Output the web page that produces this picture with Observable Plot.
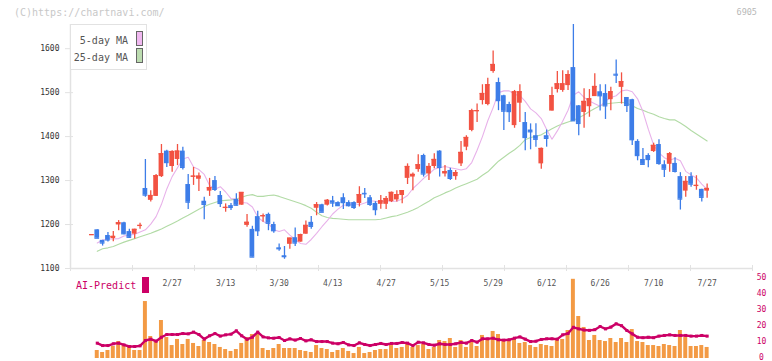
<!DOCTYPE html>
<html>
<head>
<meta charset="utf-8">
<script src="https://cdn.jsdelivr.net/npm/d3@7"></script>
<script src="https://cdn.jsdelivr.net/npm/@observablehq/plot@0.6"></script>
<style>
  html, body { margin: 0; padding: 0; background: #fff; }
  #chart { position: relative; width: 772px; height: 361px; overflow: hidden;
           font-family: "DejaVu Sans Mono", monospace; }
  #chart svg { position: absolute; left: 0; }
  .abs { position: absolute; white-space: pre; }
  .copy { left: 14px; top: 7px; font-size: 10px; color: #c8c8c8; line-height: 11px; }
  .code { right: 15px; top: 7px; font-size: 8.5px; color: #b8b8b8; line-height: 11px; }
  .legend { left: 70px; top: 24px; width: 77px; height: 46px; border: 1.5px solid #e2e2e2;
            background: #fff; box-sizing: border-box; }
  .legend .lab { position: absolute; right: 18px; font-size: 10px; color: #555; line-height: 12px; }
  .legend .sw { position: absolute; left: 65px; width: 5px; height: 13px; border: 1px solid #666; }
  .ai { left: 76px; top: 280px; font-size: 10px; color: #cc0066; line-height: 12px; }
  .aibox { left: 142px; top: 277px; width: 7px; height: 16px; background: #cc0066; }
</style>
</head>
<body>
<div id="chart">
  <div class="abs copy">(C)https://chartnavi.com/</div>
  <div class="abs code">6905</div>
</div>
<script>
// Daily candles, index 0 .. 115
const open  = [1176,1188,1164,1175,1168,1199,1204,1184,1178,1197,1282,1255,1264,1309,1367,1332,1348,1367,1291,1308,
               1303,1253,1276,1300,1266,1237,1243,1257,1244,1198,1189,1218,1218,1223,1200,1147,1129,1155,1170,1160,
               1178,1205,1237,1245,1244,1254,1250,1261,1250,1250,1248,1271,1261,1248,1246,1246,1252,1256,1266,1305,
               1308,1325,1357,1315,1332,1367,1315,1323,1309,1338,1376,1414,1457,1482,1473,1548,1523,1493,1473,1425,
               1476,1432,1415,1402,1338,1402,1458,1507,1505,1516,1557,1470,1455,1468,1491,1502,1498,1484,1542,1512,
               1489,1484,1389,1348,1357,1366,1382,1336,1337,1339,1309,1276,1309,1288,1280,1276];
const high  = [1177,1188,1164,1182,1184,1209,1205,1189,1189,1203,1348,1277,1314,1382,1369,1368,1382,1376,1314,1330,
               1317,1262,1305,1309,1275,1247,1248,1270,1273,1223,1196,1230,1224,1226,1205,1156,1150,1169,1192,1178,
               1208,1218,1250,1246,1257,1264,1252,1270,1254,1252,1286,1282,1266,1252,1266,1264,1274,1277,1277,1338,
               1317,1359,1360,1339,1361,1368,1334,1328,1323,1389,1402,1462,1474,1518,1533,1595,1533,1494,1478,1505,
               1518,1455,1429,1429,1374,1415,1512,1548,1550,1550,1655,1471,1509,1507,1543,1518,1518,1512,1574,1545,
               1489,1485,1393,1373,1361,1385,1393,1345,1364,1352,1318,1309,1318,1311,1280,1292];
const low   = [1176,1169,1151,1160,1161,1186,1177,1169,1167,1189,1262,1251,1264,1307,1330,1319,1334,1324,1234,1289,
               1275,1211,1264,1275,1239,1228,1232,1242,1244,1194,1126,1173,1205,1186,1180,1139,1121,1144,1150,1160,
               1178,1189,1220,1228,1242,1239,1241,1234,1240,1234,1240,1259,1241,1220,1235,1234,1250,1251,1247,1291,
               1277,1319,1308,1300,1327,1308,1308,1300,1301,1332,1368,1411,1432,1472,1470,1544,1459,1414,1432,1419,
               1432,1368,1370,1376,1326,1376,1458,1499,1501,1505,1436,1402,1419,1444,1491,1458,1439,1459,1521,1474,
               1455,1380,1345,1337,1329,1364,1335,1307,1319,1317,1233,1262,1285,1278,1251,1260];
const close = [1177,1169,1158,1165,1173,1204,1179,1171,1189,1198,1267,1266,1311,1361,1341,1366,1367,1330,1251,1310,
               1310,1246,1284,1280,1248,1239,1239,1244,1273,1205,1126,1186,1220,1203,1186,1145,1127,1169,1158,1177,
               1198,1196,1245,1228,1255,1249,1243,1250,1243,1239,1268,1270,1246,1234,1254,1259,1273,1268,1277,1332,
               1314,1336,1315,1332,1348,1330,1320,1305,1318,1364,1398,1459,1459,1498,1518,1564,1482,1458,1457,1502,
               1502,1398,1411,1394,1373,1396,1493,1520,1520,1541,1436,1430,1480,1486,1514,1493,1470,1502,1540,1525,
               1471,1393,1357,1337,1348,1380,1339,1326,1361,1321,1258,1298,1292,1289,1262,1282];

// Moving averages (null where not drawn)
const ma5  = [null,1158,1165,1167,1167,1168,1174,1176,1178,1183,1188,1201,1218,1246,1281,1309,1329,1349,1353,1331,
              1325,1314,1289,1280,1286,1274,1259,1258,1250,1249,1240,1217,1207,1202,1188,1184,1188,1176,1166,1157,
              1155,1166,1180,1195,1209,1224,1235,1244,1245,1248,1245,1249,1254,1253,1251,1254,1253,1253,1258,1266,
              1282,1293,1305,1315,1326,1329,1332,1329,1327,1324,1327,1341,1369,1400,1436,1466,1500,1504,1504,1496,
              1493,1480,1463,1454,1441,1416,1394,1413,1435,1460,1494,1502,1489,1481,1475,1469,1481,1489,1493,1504,
              1506,1502,1486,1457,1417,1381,1363,1352,1346,1351,1345,1321,1313,1306,1292,1280];
const ma25 = [null,1139,1145,1147,1150,1155,1160,1164,1168,1172,1176,1180,1185,1190,1196,1202,1208,1215,1221,1228,
              1235,1241,1246,1250,1254,1255,1256,1258,1262,1266,1268,1264,1264,1266,1267,1264,1260,1256,1252,1248,
              1243,1237,1228,1220,1216,1214,1213,1212,1211,1211,1211,1211,1211,1211,1212,1215,1218,1220,1224,1228,
              1233,1239,1246,1253,1261,1266,1272,1277,1283,1288,1293,1298,1303,1312,1320,1332,1344,1353,1362,1370,
              1380,1393,1398,1401,1404,1411,1418,1424,1429,1433,1437,1443,1449,1457,1464,1470,1474,1476,1477,1478,
              1476,1470,1464,1460,1455,1451,1445,1441,1438,1438,1431,1423,1414,1406,1398,1390];

// Lower panel: volume bars and AI-Predict line
const volume = [null,5,3.75,5,7.5,10.6,8.1,6.9,5,5,35.6,13.75,10.6,23.75,13.1,8.1,11.9,8.75,11.9,9.4,
                7.5,11.25,10,8.75,6.9,5.6,4.4,5.6,9.4,13.1,15,15.5,6.25,5,6.25,8.75,6.25,6.25,6.25,5,
                4.4,3.75,8.1,6.25,5.6,3.75,5,6.25,4.4,3.1,6.9,3.1,3.75,5,5.6,5.6,8.1,6.25,6.9,9.4,
                6.9,8.1,8.75,5.6,6.9,11.25,10.6,12.5,6.9,11.25,6.9,10,7.5,14.4,11.9,16.9,15,11.25,10.6,11.9,
                9.4,10,8.1,6.9,8.75,8.1,7.5,11.25,11.9,17.5,49.5,26.25,19.4,11.25,14.4,11.25,10.6,12.5,10,12.5,
                10,18.1,10.6,10,8.1,8.1,7.5,8.75,8.1,7.5,17.5,13.1,7.5,7.5,8.1,6.9];
const aiPredict = [null,9.6,8.1,8.1,9.2,9.6,8.5,7.5,7.5,7.9,11.25,12.1,10.8,13.3,15,15,15,15.6,15.4,16.5,
                   15,12.1,14.2,15.6,14,14.8,15.2,17.3,14.2,12,13.3,16.5,13.5,12.9,12.7,13.1,11.25,12.3,11.5,12.5,
                   11,11.7,10.6,10.6,10.6,9.6,9.2,10,8.5,8.1,9.8,8.75,8.1,8.75,9.4,8.75,9.4,9.4,10,9.6,
                   8.1,10.2,9.8,8.75,8.3,9.2,8.75,8.75,9.2,10,9.6,11.25,10.2,12.3,12.3,12.7,11.7,11.5,11.7,12.7,
                   13.5,12.1,10.6,10.8,11.9,12.3,12.3,12.1,14.8,15.6,19.5,18.5,17.8,17.6,18,20,18.5,19.6,21.7,20.5,
                   17.5,15.4,13.3,13,13.3,13,14,14.4,14.8,14.4,14.4,14.4,14,14,14.4,14];

// Date labels and the candle index each one sits on
const dateLabels = ["2/27","3/13","3/30","4/13","4/27","5/15","5/29","6/12","6/26","7/10","7/27"];
const dateIndex  = [15,25,35,45,55,65,75,85,95,105,115];
const priceTicks = [1100,1200,1300,1400,1500,1600];
const volumeTicks = [0,10,20,30,40,50];

const UP = "#f25242", DOWN = "#3d7de8", AXIS = "#e2e2e2";
const PINK = "#e8b2ea", GREEN = "#b2dba6", CRIMSON = "#cc0066", ORANGE = "#f39a44";
const FONT = "DejaVu Sans Mono, monospace";

const candles = close.map((c, i) => ({i, o: open[i], h: high[i], l: low[i], c, up: c >= open[i]}));
const maRows = ma5.map((v, i) => ({i, ma5: v, ma25: ma25[i]})).filter(d => d.ma5 != null);
const volRows = volume.map((v, i) => ({i, v, ai: aiPredict[i]})).filter(d => d.v != null);

// shared horizontal scale in candle-index units
const xDomain = [-4, 123.48];
const frameTicks = d3.range(12).map(k => xDomain[0] + k * (xDomain[1] - xDomain[0]) / 11);
const labelOf = new Map(dateIndex.map((d, k) => [d, dateLabels[k]]));
const yDomain = [1100, d3.max(high)];

const main = Plot.plot({
  width: 772, height: 290,
  marginLeft: 70, marginRight: 20, marginTop: 24, marginBottom: 22,
  x: {domain: xDomain, axis: null},
  y: {domain: yDomain, axis: null},
  style: {fontFamily: FONT, background: "transparent", overflow: "visible"},
  marks: [
    Plot.ruleX([xDomain[0]], {stroke: AXIS, strokeWidth: 1.5}),
    Plot.ruleY([yDomain[0]], {stroke: AXIS, strokeWidth: 1.5}),
    Plot.axisY({ticks: priceTicks, tickSize: 8, dx: 3, tickFormat: () => "", color: AXIS, label: null}),
    Plot.axisY({ticks: priceTicks, tickSize: 0, tickPadding: 11, fontSize: 8, color: "#333",
                tickFormat: d => String(d), label: null}),
    Plot.axisX({ticks: frameTicks, tickSize: 6, dy: -3, tickFormat: () => "", color: AXIS, label: null}),
    Plot.axisX({ticks: dateIndex, tickSize: 0, tickPadding: 12, fontSize: 8, color: "#555",
                tickFormat: d => labelOf.get(d), label: null}),
    Plot.line(maRows, {x: "i", y: "ma25", stroke: GREEN, strokeWidth: 1.1}),
    Plot.line(maRows, {x: "i", y: "ma5", stroke: PINK, strokeWidth: 1.1}),
    Plot.ruleX(candles, {x: "i", y1: "l", y2: "h", stroke: d => d.up ? UP : DOWN, strokeWidth: 1.3}),
    Plot.rect(candles, {x1: d => d.i - 0.44, x2: d => d.i + 0.44, y1: "o", y2: "c",
                        fill: d => d.up ? UP : DOWN}),
    Plot.ruleY(candles, {x1: d => d.i - 0.44, x2: d => d.i + 0.44, y: "c",
                         stroke: d => d.up ? UP : DOWN, strokeWidth: 1.3})
  ]
});
main.style.top = "0px";

const lower = Plot.plot({
  width: 772, height: 91,
  marginLeft: 70, marginRight: 20, marginTop: 8, marginBottom: 3,
  x: {domain: xDomain, axis: null},
  y: {domain: [0, 50], axis: null},
  style: {fontFamily: FONT, background: "transparent", overflow: "visible"},
  marks: [
    Plot.rect(volRows, {x1: d => d.i - 0.37, x2: d => d.i + 0.37, y1: 0, y2: "v", fill: ORANGE}),
    Plot.line(volRows, {x: "i", y: "ai", stroke: CRIMSON, strokeWidth: 2.4}),
    Plot.dot(volRows, {x: "i", y: "ai", symbol: "square", r: 1.7, fill: CRIMSON}),
    Plot.axisY({anchor: "right", ticks: volumeTicks, tickSize: 0, tickPadding: 9, textAnchor: "middle",
                fontSize: 8, dy: -1.5, color: CRIMSON, label: null})
  ]
});
lower.style.top = "270px";

const chart = document.getElementById("chart");
chart.appendChild(main);
chart.appendChild(lower);

// MA legend box
const legend = document.createElement("div");
legend.className = "abs legend";
legend.innerHTML =
  '<span class="lab" style="top:10px">5-day MA</span><span class="sw" style="top:6px;background:#f0b8f0"></span>' +
  '<span class="lab" style="top:27px">25-day MA</span><span class="sw" style="top:23px;background:#bcdcb0"></span>';
chart.appendChild(legend);

// AI-Predict key
const ai = document.createElement("div");
ai.className = "abs ai";
ai.textContent = "AI-Predict";
chart.appendChild(ai);
const aibox = document.createElement("div");
aibox.className = "abs aibox";
chart.appendChild(aibox);
</script>
</body>
</html>
